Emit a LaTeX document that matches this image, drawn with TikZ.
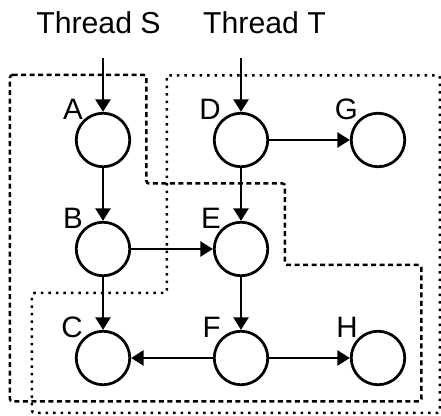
\documentclass[tikz,border=0pt]{standalone}
\usepackage{fontspec}
\setmainfont{Liberation Sans}
\usetikzlibrary{arrows.meta, positioning}

\begin{document}
\begin{tikzpicture}[
  event/.style={circle, draw, line width=0.055cm, minimum size=1.07cm, inner sep=0pt, fill=white, label distance=0.05cm},
  tag/.style={font=\fontsize{16.8}{20}\selectfont, inner sep=0pt},
  thread/.style={font=\fontsize{17.2}{20}\selectfont, anchor=base, inner sep=0pt},
  fwd/.style={-{Triangle[length=0.25cm, width=0.3cm]}, line width=0.05cm},
  regionS/.style={line width=0.05cm, rounded corners=0.05cm, dash pattern=on 0.1cm off 0.07cm},
  regionT/.style={line width=0.05cm, rounded corners=0.05cm, dash pattern=on 0.05cm off 0.1cm}
]
\useasboundingbox (0,0) rectangle (8.82,8.32);

% Thread regions
\draw[regionS] (0.2,6.82) -- (2.93,6.82) -- (2.93,4.65) -- (5.7,4.65) -- (5.7,3.02)
  -- (8.43,3.02) -- (8.43,0.29) -- (0.2,0.29) -- cycle;
\draw[regionT] (3.34,6.81) -- (8.8,6.81) -- (8.8,0.06) -- (0.64,0.06) -- (0.64,2.46)
  -- (3.34,2.46) -- cycle;

% Thread titles
\node[thread] (thS) at (1.97,7.65) {Thread S};
\node[thread] (thT) at (5.29,7.65) {Thread T};
\coordinate (inS) at (2.06,7.16);
\coordinate (inT) at (4.82,7.16);

% Events
\node[event, label={[tag]135:A}] (A) at (2.06,5.52) {};
\node[event, label={[tag]135:B}] (B) at (2.06,3.34) {};
\node[event, label={[tag]135:C}] (C) at (2.06,1.16) {};
\node[event, label={[tag]135:D}] (D) at (4.82,5.52) {};
\node[event, label={[tag]135:E}] (E) at (4.82,3.34) {};
\node[event, label={[tag]135:F}] (F) at (4.82,1.16) {};
\node[event, label={[tag]135:G}] (G) at (7.56,5.52) {};
\node[event, label={[tag]135:H}] (H) at (7.56,1.16) {};

% Edges
\draw[fwd] (inS) -- (A);
\draw[fwd] (inT) -- (D);
\draw[fwd] (A) -- (B);
\draw[fwd] (B) -- (C);
\draw[fwd] (B) -- (E);
\draw[fwd] (D) -- (E);
\draw[fwd] (D) -- (G);
\draw[fwd] (E) -- (F);
\draw[fwd] (F) -- (C);
\draw[fwd] (F) -- (H);

\end{tikzpicture}
\end{document}
